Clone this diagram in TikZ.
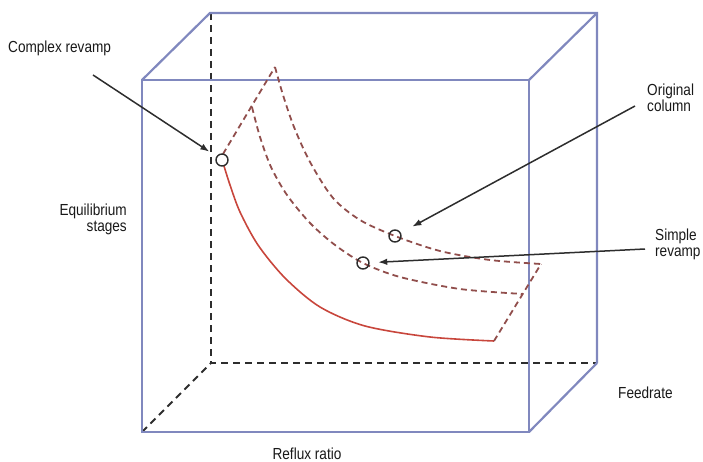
\documentclass[tikz,border=0pt]{standalone}
\usepackage{fontspec}
\setmainfont{Liberation Sans}[FakeStretch=0.85]
\usetikzlibrary{arrows.meta}
\definecolor{boxc}{RGB}{128,136,190}
\definecolor{redc}{RGB}{200,70,60}
\definecolor{dredc}{RGB}{145,78,76}
\definecolor{darkc}{RGB}{45,45,45}
\definecolor{txtc}{RGB}{25,25,25}
\begin{document}
\begin{tikzpicture}[x=1pt,y=-1pt,
  boxline/.style={draw=boxc, line width=2.2pt},
  backdash/.style={draw=darkc, line width=1.8pt, dash pattern=on 7pt off 5pt},
  redsolid/.style={draw=redc, line width=1.6pt},
  reddash/.style={draw=dredc, line width=1.8pt, dash pattern=on 6pt off 4pt},
  ring/.style={circle, draw=darkc, line width=1.4pt, minimum size=12pt, inner sep=0pt},
  arr/.style={draw=darkc, line width=1.5pt, -{Latex[length=9pt,width=6.5pt]}},
  lab/.style={font=\fontsize{16}{16}\selectfont, inner sep=0pt, text=txtc}]
\useasboundingbox (0,0) rectangle (703,462);
% back (hidden) edges
\draw[backdash] (211,13) -- (211,363) -- (597,363);
\draw[backdash] (142,432) -- (211,363);
% box
\draw[boxline] (142,80) rectangle (529,432);
\draw[boxline] (142,80) -- (210,13) -- (597,13) -- (597,363);
\draw[boxline] (529,80) -- (597,13);
\draw[boxline] (529,432) -- (597,363);
% surface curves
\draw[redsolid] plot[smooth] coordinates {(224,166) (230,185) (240,212) (258,245) (285,278) (320,307) (365,326) (430,337) (494,341)};
\draw[reddash] (494,341) -- (541,264);
\draw[reddash] (223,154) -- (275,67);
\draw[reddash] plot[smooth] coordinates {(275,67) (283,95) (294,127) (310,162) (333,198) (360,220) (395,236) (440,251) (490,260) (541,264)};
\draw[reddash] plot[smooth] coordinates {(252,107) (260,137) (271,167) (287,195) (310,223) (335,245) (363,263) (400,277) (460,289) (523,294)};
% circles
\node[ring] (ccr) at (222,160) {};
\node[ring] (coc) at (395,236) {};
\node[ring] (csr) at (363,263) {};
% labels
\node[lab, anchor=base west] (tcr) at (8,53) {Complex revamp};
\node[lab, anchor=north east, align=right] (teq) at (127,203.5) {Equilibrium\\stages};
\node[lab, anchor=north west, align=left] (toc) at (647,83.5) {Original\\column};
\node[lab, anchor=north west, align=left] (tsr) at (655,228.3) {Simple\\revamp};
\node[lab, anchor=base west] (tfr) at (618,398.5) {Feedrate};
\node[lab, anchor=base] (trr) at (307,459.5) {Reflux ratio};
% arrows
\coordinate (acr) at (93,75);
\coordinate (aoc) at (635,106);
\coordinate (asr) at (645,249);
\draw[arr, shorten >=8.5pt] (acr) -- (ccr);
\draw[arr, shorten >=13pt] (aoc) -- (coc);
\draw[arr, shorten >=8.5pt] (asr) -- (csr);
\end{tikzpicture}
\end{document}
